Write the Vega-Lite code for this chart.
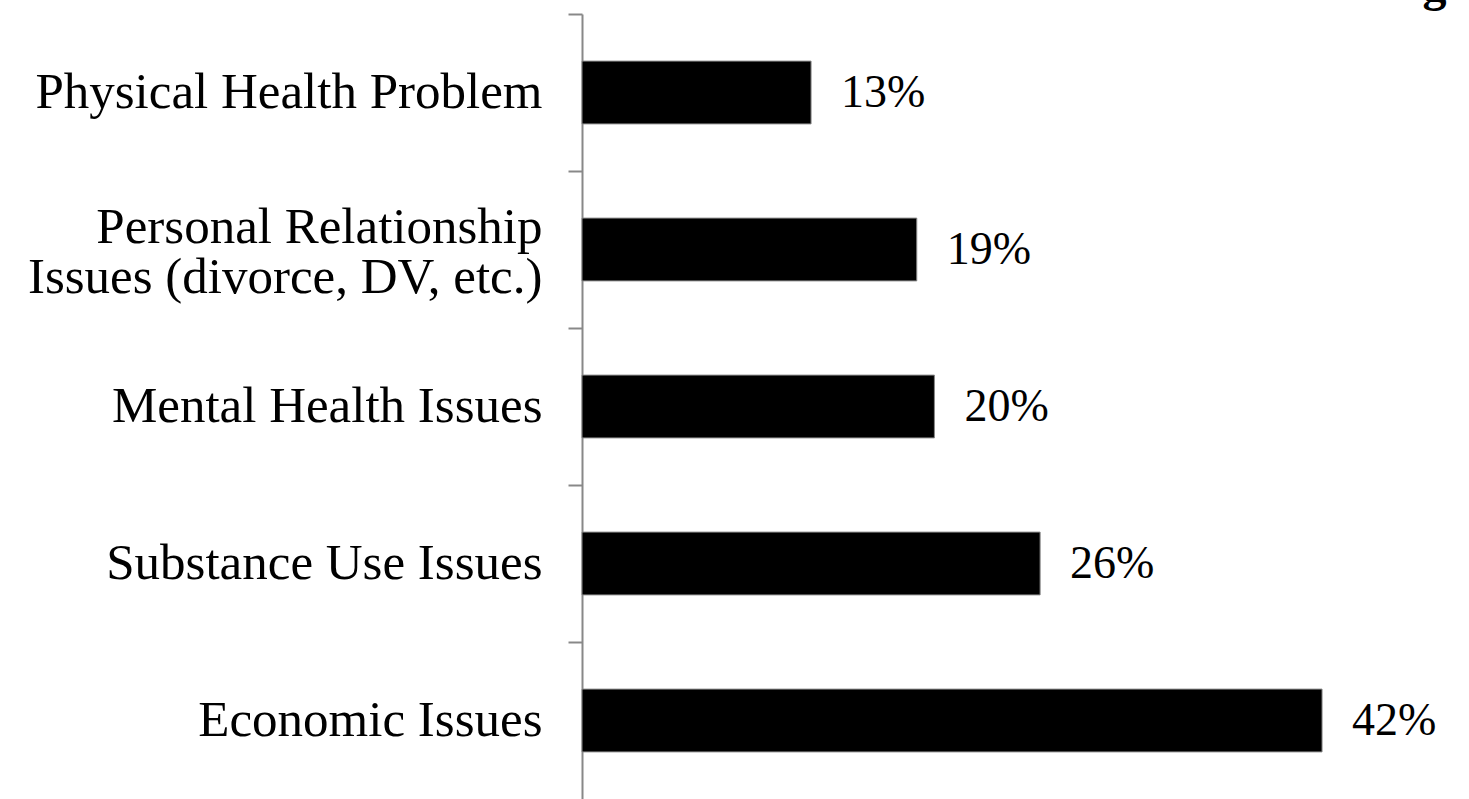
{
  "$schema": "https://vega.github.io/schema/vega-lite/v6.json",
  "width": 881,
  "height": 785,
  "autosize": {"type": "none"},
  "padding": {"left": 582, "top": 14, "right": 6, "bottom": 0},
  "background": "white",
  "data": {"values": [
    {"category": "Physical Health Problem", "pct": 0.13},
    {"category": "Personal Relationship|Issues (divorce, DV, etc.)", "pct": 0.19},
    {"category": "Mental Health Issues", "pct": 0.20},
    {"category": "Substance Use Issues", "pct": 0.26},
    {"category": "Economic Issues", "pct": 0.42}
  ]},
  "config": {"view": {"stroke": null}},
  "encoding": {
    "y": {"field": "category", "type": "nominal", "sort": null,
      "scale": {"paddingInner": 0.6, "paddingOuter": 0.3},
      "axis": {"title": null, "tickOffset": -78.5,
        "labelOffset": {"condition": {"test": "indexof(datum.value, '|') >= 0", "value": 56}, "value": 78.5},
        "domainColor": "#888888", "domainWidth": 2, "tickColor": "#888888", "tickWidth": 2, "tickSize": 14, "labelPadding": 26, "labelFont": "Liberation Serif", "labelFontSize": 51, "labelColor": "black", "labelLimit": 0, "labelLineHeight": 50, "labelExpr": "split(datum.label, '|')"}},
    "x": {"field": "pct", "type": "quantitative", "scale": {"domain": [0, 0.5]},
      "axis": {"orient": "top", "title": "g", "domain": false, "ticks": false, "labels": false, "grid": false,
        "titleFont": "Liberation Serif", "titleFontSize": 48, "titleFontWeight": "bold", "titleColor": "black",
        "titleAlign": "right", "titleAnchor": "end", "titleBaseline": "alphabetic", "titleX": 864, "titleY": -14}}
  },
  "layer": [
    {"mark": {"type": "bar", "color": "black", "stroke": "#888888", "strokeWidth": 1}},
    {"mark": {"type": "text", "align": "left", "baseline": "middle", "dx": 30, "font": "Liberation Serif", "fontSize": 46, "color": "black"},
     "encoding": {"text": {"field": "pct", "type": "quantitative", "format": ".0%"}}}
  ]
}
